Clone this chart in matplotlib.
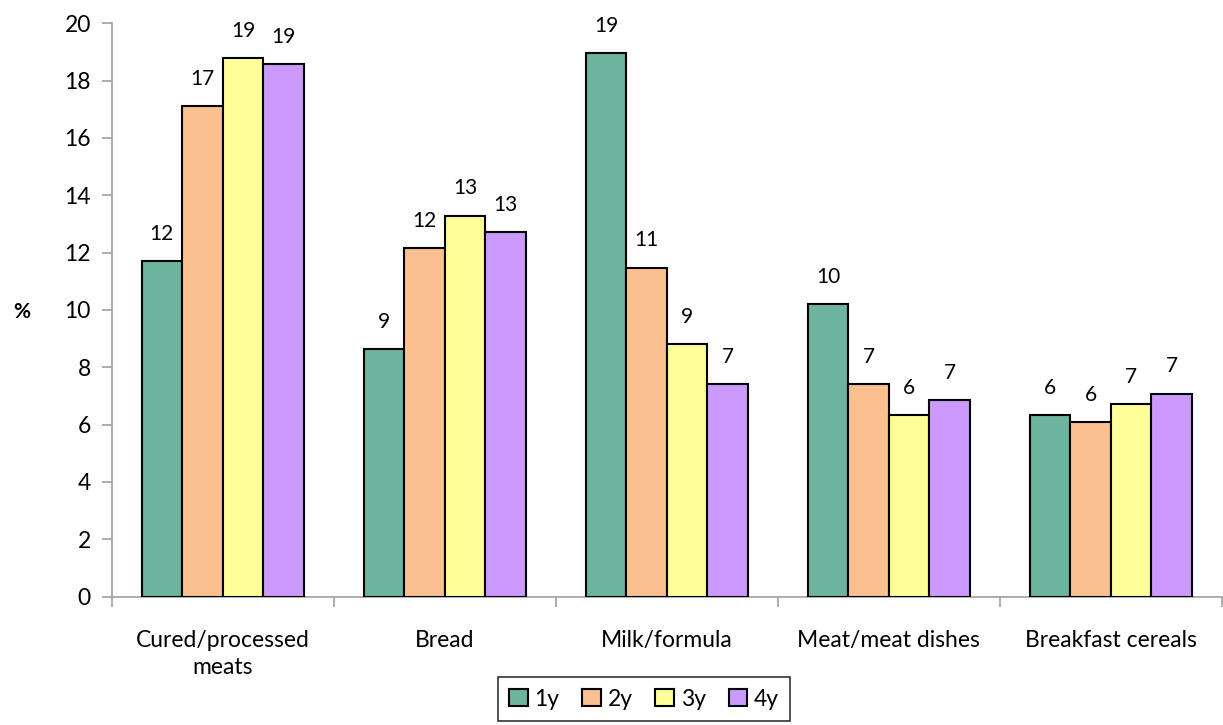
import matplotlib
matplotlib.use('Agg')
from matplotlib import pyplot as plt
import numpy as np

plt.rcParams['font.family'] = ['Lato', 'DejaVu Sans']

categories = ['Cured/processed\nmeats', 'Bread', 'Milk/formula', 'Meat/meat dishes', 'Breakfast cereals']
ages = ['1y', '2y', '3y', '4y']

pct_1y = [11.70, 8.63, 18.95, 10.20, 6.34]
pct_2y = [17.11, 12.15, 11.48, 7.40, 6.10]
pct_3y = [18.77, 13.29, 8.81, 6.34, 6.71]
pct_4y = [18.56, 12.71, 7.42, 6.86, 7.08]

colors = ['#6CB49E', '#FAC090', '#FFFF99', '#CC99FF']
series = [pct_1y, pct_2y, pct_3y, pct_4y]

fig = plt.figure(figsize=(12.23, 7.25), dpi=100)
ax = fig.add_axes([0.0913, 0.177, 0.9077, 0.791])

x = np.arange(len(categories))
w = 0.1826

for i, (vals, col, lab) in enumerate(zip(series, colors, ages)):
    bars = ax.bar(x + (i - 1.5) * w, vals, w, color=col, edgecolor='black',
                  linewidth=1.5, label=lab, zorder=3)
    for b, v in zip(bars, vals):
        ax.text(b.get_x() + b.get_width() / 2, v + 0.6, f'{v:.0f}',
                ha='center', va='bottom', fontsize=15)

ax.set_xlim(-0.5, len(categories) - 0.5)
ax.set_ylim(0, 20)
ax.set_yticks(range(0, 21, 2))
ax.tick_params(axis='y', labelsize=16.5, length=7, color='#A0A0A0', width=1.2, pad=8)

ax.set_xticks(x)
ax.set_xticklabels(categories, fontsize=16.5, linespacing=1.35)
ax.tick_params(axis='x', which='major', length=0, pad=24)
ax.set_xticks(np.arange(-0.5, len(categories)), minor=True)
ax.tick_params(axis='x', which='minor', length=7, color='#A0A0A0', width=1.2, direction='out')

for s in ['top', 'right']:
    ax.spines[s].set_visible(False)
for s in ['left', 'bottom']:
    ax.spines[s].set_color('#A0A0A0')
    ax.spines[s].set_linewidth(1.2)

fig.text(0.0175, 0.5697, '%', fontsize=15, fontweight='bold', ha='center', va='center')

leg = fig.legend(loc='upper center', bbox_to_anchor=(0.5266, 0.066), ncol=4,
                 fontsize=16.5, frameon=True, fancybox=False, handlelength=0.8,
                 handleheight=0.8, handletextpad=0.3, columnspacing=1.0,
                 borderpad=0.5, borderaxespad=0)
leg.get_frame().set_edgecolor('black')
leg.get_frame().set_linewidth(1.2)

plt.savefig('out.png', dpi=100)
